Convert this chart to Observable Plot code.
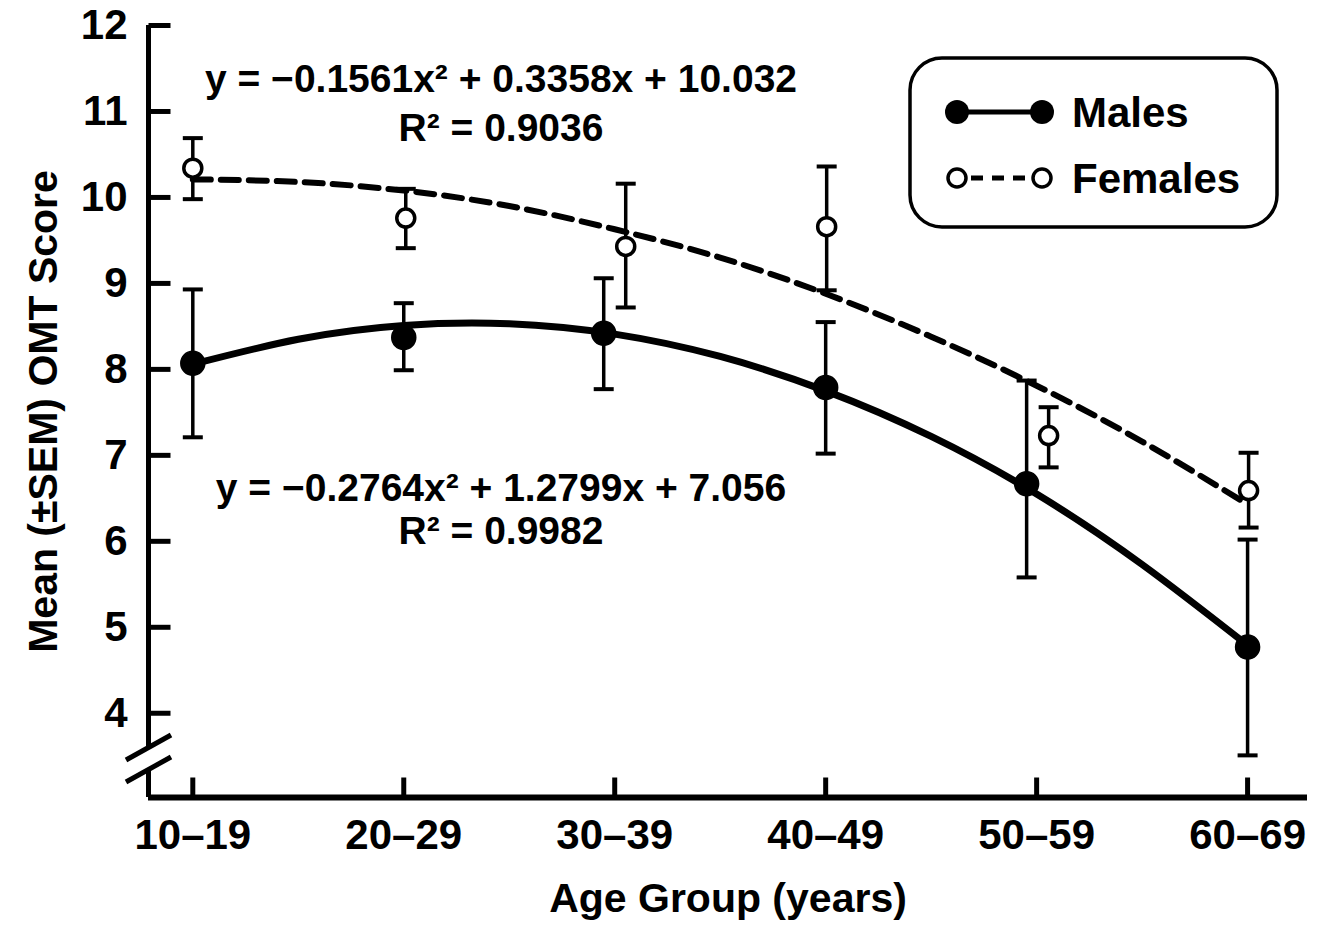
<!DOCTYPE html>
<html><head><meta charset="utf-8">
<script src="https://cdn.jsdelivr.net/npm/d3@7"></script>
<script src="https://cdn.jsdelivr.net/npm/@observablehq/plot@0.6"></script>
<style>
body{margin:0;background:#fff}
#chart{position:relative;width:1331px;height:928px}
</style>
</head><body><div id="chart"></div>
<script>
// ---- data ----
const ageGroups  = ["10–19","20–29","30–39","40–49","50–59","60–69"];
const maleMean   = [8.07, 8.37, 8.42, 7.79, 6.67, 4.77];
const maleLow    = [7.21, 7.99, 7.77, 7.02, 5.58, 3.51];
const maleHigh   = [8.93, 8.77, 9.06, 8.55, 7.87, 6.02];
const femaleMean = [10.34, 9.76, 9.43, 9.66, 7.23, 6.59];
const femaleLow  = [9.98, 9.41, 8.72, 8.92, 6.86, 6.16];
const femaleHigh = [10.69, 10.10, 10.16, 10.36, 7.56, 7.03];
// fitted trend curves, read at half-group steps
const fitPos     = [1, 1.5, 2, 2.5, 3, 3.5, 4, 4.5, 5, 5.5, 6];
const maleFit    = [8.06, 8.35, 8.51, 8.53, 8.41, 8.15, 7.75, 7.22, 6.55, 5.73, 4.79];
const femaleFit  = [10.21, 10.18, 10.08, 9.90, 9.63, 9.30, 8.88, 8.38, 7.81, 7.16, 6.43];
const yTicks     = [4, 5, 6, 7, 8, 9, 10, 11, 12];
const femaleEq   = ["y = −0.1561x² + 0.3358x + 10.032", "R² = 0.9036"];
const maleEq     = ["y = −0.2764x² + 1.2799x + 7.056", "R² = 0.9982"];
const legendLabels = ["Males", "Females"];

// ---- layout ----
const W = 1331, H = 928, mL = 148, mR = 24, mT = 25, mB = 131;
const X0 = 0.79, X1 = 6.284, Y0 = 3.02, Y1 = 12;
const dxu = (X1 - X0) / (W - mL - mR);   // data units per px (x)
const dyu = (Y1 - Y0) / (H - mT - mB);   // data units per px (y)
const maleDodgePx   = [0, 0, -11, 0, -10, 0];
const femaleDodgePx = [0, 2, 11, 1, 12, 1];
const yBreak = [Y1 - (768 - mT) * dyu, Y1 - (746 - mT) * dyu];

const males = ageGroups.map((g, i) => ({g, x: i + 1 + maleDodgePx[i] * dxu, mean: maleMean[i], lo: maleLow[i], hi: maleHigh[i]}));
const females = ageGroups.map((g, i) => ({g, x: i + 1 + femaleDodgePx[i] * dxu, mean: femaleMean[i], lo: femaleLow[i], hi: femaleHigh[i]}));
const maleCurve = fitPos.map((x, i) => ({x, y: maleFit[i]}));
const femaleCurve = fitPos.map((x, i) => ({x, y: femaleFit[i]}));
const cap = 10 * dxu;

function errorBars(data, w) {
  return [
    Plot.ruleX(data, {x: "x", y1: "lo", y2: "hi", stroke: "black", strokeWidth: w}),
    Plot.link(data, {x1: d => d.x - cap, x2: d => d.x + cap, y1: "hi", y2: "hi", stroke: "black", strokeWidth: 4}),
    Plot.link(data, {x1: d => d.x - cap, x2: d => d.x + cap, y1: "lo", y2: "lo", stroke: "black", strokeWidth: 4})
  ];
}

const plot = Plot.plot({
  width: W, height: H,
  marginLeft: mL, marginRight: mR, marginTop: mT, marginBottom: mB,
  style: {fontFamily: "'Liberation Sans', Arial, sans-serif", fontSize: "42px", fontWeight: "bold", background: "white", color: "black", overflow: "visible"},
  x: {domain: [X0, X1]},
  y: {domain: [Y0, Y1]},
  marks: [
    Plot.line(femaleCurve, {x: "x", y: "y", stroke: "black", strokeWidth: 6, strokeDasharray: "18,10", curve: "natural"}),
    Plot.line(maleCurve, {x: "x", y: "y", stroke: "black", strokeWidth: 7, curve: "natural"}),
    ...errorBars(males, 3.5),
    ...errorBars(females, 3.5),
    Plot.dot(males, {x: "x", y: "mean", r: 12, fill: "black", stroke: "black"}),
    Plot.dot(females, {x: "x", y: "mean", r: 9, fill: "white", stroke: "black", strokeWidth: 3.5}),
    // axis lines with break
    Plot.ruleY([Y0], {x1: X0, x2: X1, stroke: "black", strokeWidth: 6}),
    Plot.ruleX([X0], {y1: yBreak[1], y2: Y1, stroke: "black", strokeWidth: 5}),
    Plot.ruleX([X0], {y1: Y0, y2: yBreak[0], stroke: "black", strokeWidth: 5}),
    // inward ticks
    Plot.link(yTicks, {x1: X0, x2: X0 + 22 * dxu, y1: d => d, y2: d => d, stroke: "black", strokeWidth: 5}),
    Plot.link(ageGroups.map((g, i) => i + 1), {x1: d => d, x2: d => d, y1: Y0, y2: Y0 + 20 * dyu, stroke: "black", strokeWidth: 5}),
    Plot.axisY({ticks: yTicks, tickSize: 0, tickPadding: 21, tickFormat: d => String(d), label: null, fontSize: 42}),
    Plot.axisX({ticks: ageGroups.map((g, i) => i + 1), tickSize: 0, tickPadding: 22, tickFormat: d => ageGroups[d - 1], label: null, fontSize: 42}),
    Plot.text(["Mean (±SEM) OMT Score"], {text: d => d, frameAnchor: "left", textAnchor: "middle", rotate: -90, dx: -105, fontSize: 41}),
    Plot.text(["Age Group (years)"], {text: d => d, frameAnchor: "bottom", dy: 114, fontSize: 41})
  ]
});
document.getElementById("chart").appendChild(plot);

// ---- annotations: equations, axis break, legend ----
const svg = d3.select(plot);
const g = svg.append("g").attr("fill", "black").style("font-family", "'Liberation Sans', Arial, sans-serif").style("font-weight", "bold");
[[femaleEq, 78, 127], [maleEq, 487, 530]].forEach(([lines, y1, y2]) => {
  g.append("text").attr("x", 501).attr("y", y1).attr("dy", "0.35em").attr("text-anchor", "middle").attr("font-size", 39).text(lines[0]);
  g.append("text").attr("x", 501).attr("y", y2).attr("dy", "0.35em").attr("text-anchor", "middle").attr("font-size", 39).text(lines[1]);
});
// axis break slashes
[[760, 735], [782, 757]].forEach(([ya, yb]) => {
  g.append("line").attr("x1", 126).attr("y1", ya).attr("x2", 171).attr("y2", yb).attr("stroke", "black").attr("stroke-width", 5);
});
// legend
const lg = g.append("g");
lg.append("rect").attr("x", 910).attr("y", 58).attr("width", 367).attr("height", 169).attr("rx", 32)
  .attr("fill", "white").attr("stroke", "black").attr("stroke-width", 3.5);
lg.append("line").attr("x1", 957).attr("x2", 1042).attr("y1", 112).attr("y2", 112).attr("stroke", "black").attr("stroke-width", 5);
[957, 1042].forEach(cx => lg.append("circle").attr("cx", cx).attr("cy", 112).attr("r", 12).attr("fill", "black"));
lg.append("line").attr("x1", 966).attr("x2", 1033).attr("y1", 178).attr("y2", 178).attr("stroke", "black").attr("stroke-width", 5).attr("stroke-dasharray", "12,9").attr("stroke-dashoffset", -5);
[957, 1042].forEach(cx => lg.append("circle").attr("cx", cx).attr("cy", 178).attr("r", 9).attr("fill", "white").attr("stroke", "black").attr("stroke-width", 3.5));
lg.append("text").attr("x", 1072).attr("y", 112).attr("dy", "0.35em").attr("text-anchor", "start").attr("font-size", 42).text(legendLabels[0]);
lg.append("text").attr("x", 1072).attr("y", 178).attr("dy", "0.35em").attr("text-anchor", "start").attr("font-size", 42).text(legendLabels[1]);
</script>
</body></html>
